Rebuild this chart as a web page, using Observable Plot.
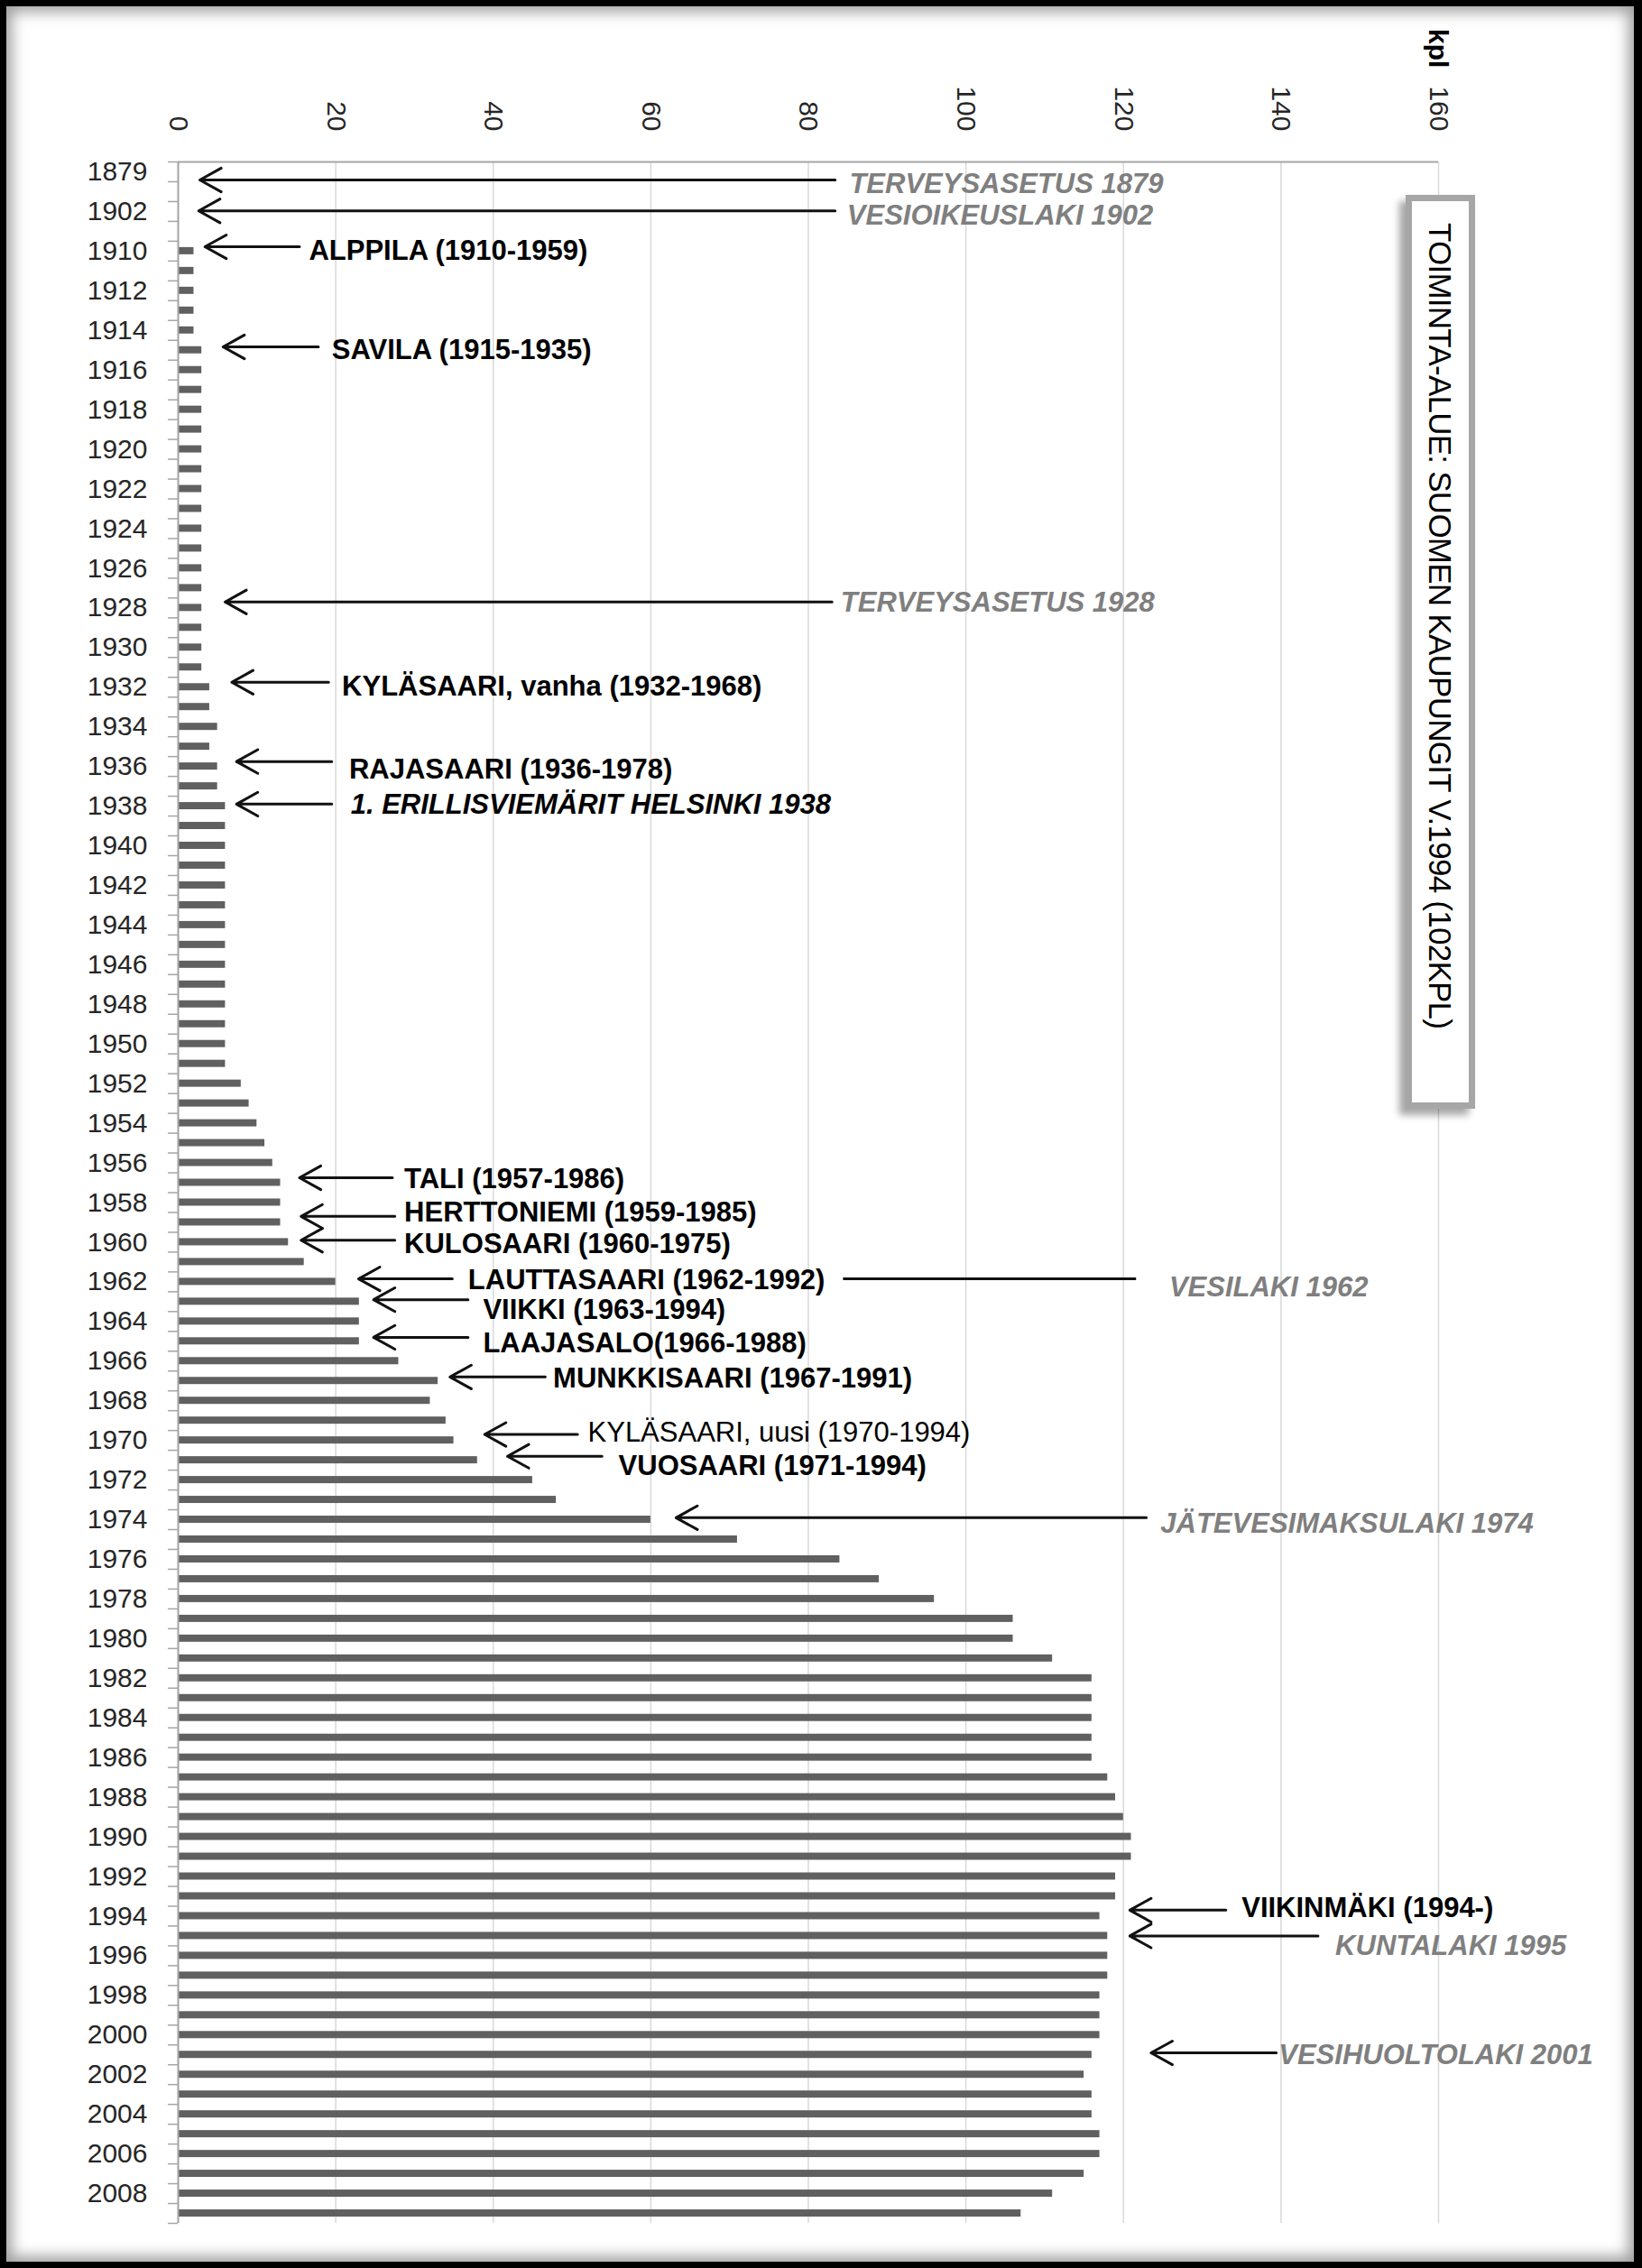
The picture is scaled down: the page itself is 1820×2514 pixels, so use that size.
<!DOCTYPE html>
<html><head><meta charset="utf-8">
<script src="https://cdn.jsdelivr.net/npm/d3@7"></script>
<script src="https://cdn.jsdelivr.net/npm/@observablehq/plot@0.6"></script>
<style>
html,body{margin:0;padding:0;background:#fff;}
#page{position:relative;width:1820px;height:2514px;overflow:hidden;font-family:"Liberation Sans",Arial,sans-serif;}
#frame{position:absolute;left:0;top:0;width:1820px;height:2514px;box-sizing:border-box;border:7px solid #000;border-right-width:9px;box-shadow:inset 0 0 16px 6px rgba(0,0,0,0.38);background:#fff;}
#chart{position:absolute;left:0;top:0;}
#chart svg{max-width:none;background:transparent;}
#kpl{position:absolute;left:1579px;top:32px;writing-mode:vertical-rl;font-weight:bold;font-size:30px;line-height:30px;width:30px;color:#000;}
#titlebox{position:absolute;left:1558px;top:216px;width:77px;height:1013px;box-sizing:border-box;border:7px solid #a6a6a6;background:#fff;box-shadow:-7px 7px 8px rgba(0,0,0,0.35);}
#titlebox span{display:block;writing-mode:vertical-rl;font-size:35px;letter-spacing:-0.75px;line-height:63px;padding-top:24px;color:#000;}
</style>
</head>
<body>
<div id="page">
  <div id="frame"></div>
  <div id="chart"></div>
  <div id="titlebox"><span>TOIMINTA-ALUE: SUOMEN KAUPUNGIT V.1994 (102KPL)</span></div>
  <div id="kpl">kpl</div>
</div>
<script>
// Category labels (rows 1 and 3 are unlabeled categories in the original)
const years = ["1879","","1902","",
"1910","1911","1912","1913","1914","1915","1916","1917","1918","1919",
"1920","1921","1922","1923","1924","1925","1926","1927","1928","1929",
"1930","1931","1932","1933","1934","1935","1936","1937","1938","1939",
"1940","1941","1942","1943","1944","1945","1946","1947","1948","1949",
"1950","1951","1952","1953","1954","1955","1956","1957","1958","1959",
"1960","1961","1962","1963","1964","1965","1966","1967","1968","1969",
"1970","1971","1972","1973","1974","1975","1976","1977","1978","1979",
"1980","1981","1982","1983","1984","1985","1986","1987","1988","1989",
"1990","1991","1992","1993","1994","1995","1996","1997","1998","1999",
"2000","2001","2002","2003","2004","2005","2006","2007","2008","2009"];

// Number of treatment plants (kpl) per year
const values = [0,0,0,0,
2,2,2,2,2,3,3,3,3,3,
3,3,3,3,3,3,3,3,3,3,
3,3,4,4,5,4,5,5,6,6,
6,6,6,6,6,6,6,6,6,6,
6,6,8,9,10,11,12,13,13,13,
14,16,20,23,23,23,28,33,32,34,
35,38,45,48,60,71,84,89,96,106,
106,111,116,116,116,116,116,118,119,120,
121,121,119,119,117,118,118,118,117,117,
117,116,115,116,116,117,117,115,111,107];

const xTicks = [0,20,40,60,80,100,120,140,160];

// Annotations (rows in category units, x in kpl units)
const annLabels = [
"TERVEYSASETUS 1879","VESIOIKEUSLAKI 1902","ALPPILA (1910-1959)","SAVILA (1915-1935)",
"TERVEYSASETUS 1928","KYLÄSAARI, vanha (1932-1968)","RAJASAARI (1936-1978)","1. ERILLISVIEMÄRIT HELSINKI 1938",
"TALI (1957-1986)","HERTTONIEMI (1959-1985)","KULOSAARI (1960-1975)","LAUTTASAARI (1962-1992)",
"VESILAKI 1962","VIIKKI (1963-1994)","LAAJASALO(1966-1988)","MUNKKISAARI (1967-1991)",
"KYLÄSAARI, uusi (1970-1994)","VUOSAARI (1971-1994)","JÄTEVESIMAKSULAKI 1974","VIIKINMÄKI (1994-)",
"KUNTALAKI 1995","VESIHUOLTOLAKI 2001"];
const annKinds = ["law","law","place","place","law","place","place","lawBlack",
"place","place","place","place","law","place","place","place",
"placeRegular","place","law","place","law","law"];
const annArrowRows = [0.41,1.97,3.78,8.83,21.7,25.75,29.75,31.9,50.75,52.7,53.9,55.85,55.85,56.9,58.8,60.8,63.7,64.8,67.9,87.7,89.0,94.9];
const annTips = [2.75,2.6,3.4,5.7,5.95,6.8,7.4,7.4,15.4,15.6,15.6,22.9,84.4,24.8,24.8,34.5,38.9,41.8,63.2,120.8,120.8,123.5];
const annTails = [83.4,83.4,15.4,17.8,83.0,19.1,19.5,19.5,27.2,27.5,27.5,34.8,121.6,36.8,36.8,46.6,50.7,53.8,122.9,133.0,144.7,139.4];
const annHeads = [true,true,true,true,true,true,true,true,true,true,true,true,false,true,true,true,true,true,true,true,true,true];
const annTextX = [85.2,84.9,16.6,19.5,84.1,20.8,21.7,21.9,28.7,28.7,28.7,36.8,125.8,38.7,38.7,47.6,52.0,55.9,124.7,135.0,146.9,139.7];
const annTextRows = [0.6,2.2,4.0,9.0,21.75,25.95,30.15,31.95,50.8,52.5,54.1,55.9,56.3,57.4,59.1,60.9,63.6,65.3,68.2,87.6,89.5,95.0];

const rows = years.map((y, i) => ({i, label: y, value: values[i]}));
const ann = annLabels.map((t, k) => ({
  text: t, kind: annKinds[k], row: annArrowRows[k], tip: annTips[k], tail: annTails[k],
  head: annHeads[k], tx: annTextX[k], trow: annTextRows[k]
}));
const evenIdx = years.map((_, i) => i).filter(i => i % 2 === 0);
const bounds = d3.range(0, years.length + 1).map(i => i - 0.5);

const FONT = "Liberation Sans, Arial, sans-serif";

const chart = Plot.plot({
  width: 1820, height: 2514,
  marginLeft: 197, marginRight: 226, marginTop: 179, marginBottom: 50,
  style: {background: "transparent", fontFamily: FONT, overflow: "visible"},
  x: {domain: [0, 160], label: null},
  y: {domain: [-0.5, years.length - 0.5], reverse: true, label: null},
  marks: [
    Plot.gridX(xTicks, {stroke: "#d9d9d9", strokeOpacity: 1, strokeWidth: 1.5}),
    Plot.rectX(rows, {x: "value", y1: d => d.i - 0.5, y2: d => d.i + 0.5, insetTop: 7, insetBottom: 7, fill: "#606060"}),
    Plot.ruleY([-0.5], {stroke: "#a6a6a6", strokeWidth: 2}),
    Plot.ruleX([0], {stroke: "#a6a6a6", strokeWidth: 2}),
    Plot.axisY({ticks: bounds, tickSize: 11, tickFormat: () => "", color: "#a6a6a6", strokeWidth: 1.5, label: null}),
    Plot.axisY({ticks: evenIdx, tickSize: 0, tickPadding: 34, tickFormat: i => years[i], fontSize: 30, color: "#262626", label: null}),
    Plot.axisX({anchor: "top", ticks: xTicks, tickSize: 0, tickPadding: 34, tickRotate: 90, textAnchor: "end", lineAnchor: "middle", fontSize: 30, color: "#262626", label: null}),
    Plot.arrow(ann.filter(d => d.head), {x1: "tail", y1: "row", x2: "tip", y2: "row", stroke: "#111", strokeWidth: 3, headLength: 13.5, headAngle: 58}),
    Plot.link(ann.filter(d => !d.head), {x1: "tail", y1: "row", x2: "tip", y2: "row", stroke: "#111", strokeWidth: 3}),
    Plot.text(ann, {filter: d => d.kind === "place", x: "tx", y: "trow", text: "text", textAnchor: "start", fontSize: 31, fontWeight: "bold", fill: "#000"}),
    Plot.text(ann, {filter: d => d.kind === "placeRegular", x: "tx", y: "trow", text: "text", textAnchor: "start", fontSize: 31, fill: "#000"}),
    Plot.text(ann, {filter: d => d.kind === "lawBlack", x: "tx", y: "trow", text: "text", textAnchor: "start", fontSize: 31, fontWeight: "bold", fontStyle: "italic", fill: "#000"}),
    Plot.text(ann, {filter: d => d.kind === "law", x: "tx", y: "trow", text: "text", textAnchor: "start", fontSize: 31, fontWeight: "bold", fontStyle: "italic", fill: "#7f7f7f"})
  ]
});
document.getElementById("chart").appendChild(chart);
</script>
</body></html>
